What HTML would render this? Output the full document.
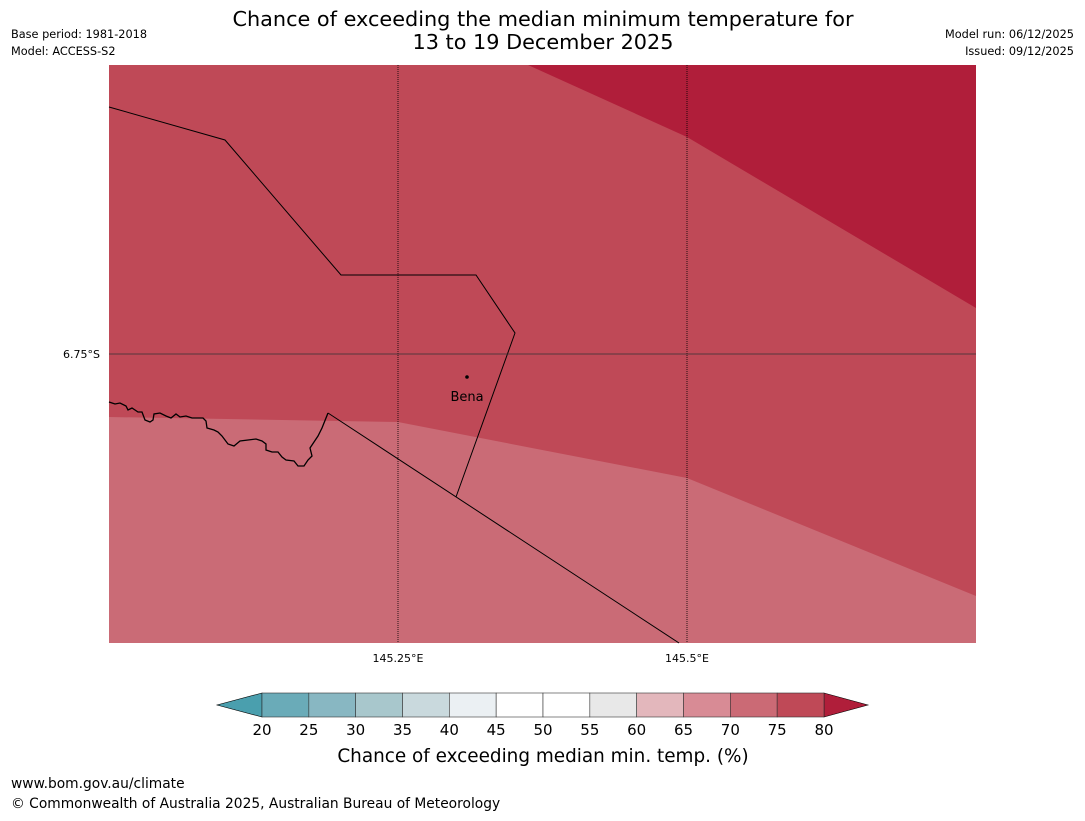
<!DOCTYPE html>
<html><head><meta charset="utf-8"><style>
body{margin:0;background:#fff;font-family:"Liberation Sans","DejaVu Sans",sans-serif;}
svg text{font-family:"DejaVu Sans","Liberation Sans",sans-serif;}
</style></head><body>
<svg width="1085" height="816" xmlns="http://www.w3.org/2000/svg">
<text x="543" y="26" font-size="20.8" text-anchor="middle">Chance of exceeding the median minimum temperature for</text>
<text x="543" y="49" font-size="20.8" text-anchor="middle">13 to 19 December 2025</text>
<text x="11" y="38" font-size="11.3">Base period: 1981-2018</text>
<text x="11" y="55" font-size="11.3">Model: ACCESS-S2</text>
<text x="1074" y="38" font-size="11.3" text-anchor="end">Model run: 06/12/2025</text>
<text x="1074" y="55" font-size="11.3" text-anchor="end">Issued: 09/12/2025</text>
<g>
<rect x="109" y="65" width="867" height="578" fill="#bf4957"/>
<polygon points="528,65 976,65 976,308 687,137" fill="#b01e3a"/>
<polygon points="109,417 398,422 687,478 976,596 976,643 109,643" fill="#ca6b76"/>
<polyline fill="none" stroke="#000" stroke-width="1.3" points="109,402 115,404 120,403 126,406 128,410 132,408 138,412 142,412 145,420 150,422 153,420 154,414 160,413 166,416 171,418 176,414 180,417 186,416 192,418 203,418 206,421 207,428 214,430 218,432 222,436 228,444 234,446 240,441 248,440 256,439 262,441 266,444 266,450 272,452 278,452 282,457 286,460 294,461 298,466 304,466 308,460 312,456 310,448 314,442 318,436 322,428 328,413"/>
<polyline fill="none" stroke="#000" stroke-width="1" points="109,107 225,140 341,275 476,275 515,333 456,497"/>
<line x1="328" y1="413" x2="679" y2="643" stroke="#000" stroke-width="1"/>
<line x1="398" y1="65" x2="398" y2="643" stroke="#000" stroke-width="0.8" stroke-dasharray="1,1"/>
<line x1="687" y1="65" x2="687" y2="643" stroke="#000" stroke-width="0.8" stroke-dasharray="1,1"/>
<line x1="109" y1="354" x2="976" y2="354" stroke="#333" stroke-width="0.8"/>
<circle cx="467" cy="377" r="1.8" fill="#000"/>
<text x="467" y="401" font-size="13" text-anchor="middle">Bena</text>
</g>
<text x="100" y="358" font-size="11" text-anchor="end">6.75°S</text>
<text x="398" y="662" font-size="11" text-anchor="middle">145.25°E</text>
<text x="687" y="662" font-size="11" text-anchor="middle">145.5°E</text>
<g id="cbar"></g>
<text x="543" y="762" font-size="18.4" text-anchor="middle">Chance of exceeding median min. temp. (%)</text>
<text x="11" y="788" font-size="13.8">www.bom.gov.au/climate</text>
<text x="11" y="808" font-size="13.8">© Commonwealth of Australia 2025, Australian Bureau of Meteorology</text>
</svg>
<script>
const bounds=[20,25,30,35,40,45,50,55,60,65,70,75,80];
const colors=["#6aabb8","#88b7c2","#a8c7cc","#c9d9dd","#ebf0f3","#ffffff","#ffffff","#e8e8e8","#e3b7bc","#d88b95","#cb6a75","#bf4957"];
const underColor="#4a9fae", overColor="#b01e3a";
const ns="http://www.w3.org/2000/svg";
const g=document.getElementById('cbar');
const x0=262,x1=824,y0=693,y1=717;
const sx=v=>x0+(v-bounds[0])/(bounds[bounds.length-1]-bounds[0])*(x1-x0);
function mk(t,a){const e=document.createElementNS(ns,t);for(const k in a)e.setAttribute(k,a[k]);g.appendChild(e);return e;}
const tl=mk('polygon',{points:`${x0},${y0} ${x0-45},${(y0+y1)/2} ${x0},${y1}`,fill:underColor,stroke:'#000','stroke-width':0.6});


const tr=mk('polygon',{points:`${x1},${y0} ${x1+44},${(y0+y1)/2} ${x1},${y1}`,fill:overColor,stroke:'#000','stroke-width':0.6});


for(let i=0;i<colors.length;i++){
 const r=mk('rect',{x:sx(bounds[i]),y:y0,width:sx(bounds[i+1])-sx(bounds[i]),height:y1-y0,fill:colors[i],stroke:'#333','stroke-width':0.6});
 
 
}
bounds.forEach(b=>{
 const t=mk('text',{x:sx(b),y:735,'font-size':15,'text-anchor':'middle'});
 t.textContent=b;
 
 
});
</script>
</body></html>
